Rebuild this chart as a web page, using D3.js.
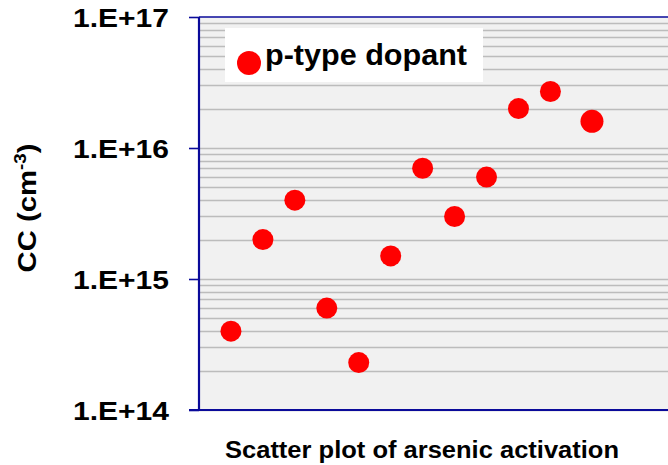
<!DOCTYPE html>
<html>
<head>
<meta charset="utf-8">
<script src="https://cdn.jsdelivr.net/npm/d3@7"></script>
<style>
  html, body { margin: 0; padding: 0; background: #ffffff; }
  svg { display: block; }
  text { font-family: "Liberation Sans", Arial, Helvetica, sans-serif; font-weight: bold; fill: #000; }
</style>
</head>
<body>
<svg id="chart" width="668" height="465"></svg>
<script>
// Sample order along the horizontal axis
const sampleIndex = [1, 2, 3, 4, 5, 6, 7, 8, 9, 10, 11, 12.3];
// Carrier concentration, cm^-3
const carrierConc = [4.0e14, 2.0e15, 4.0e15, 6.0e14, 2.3e14, 1.5e15, 7.0e15, 3.0e15, 6.0e15, 2.0e16, 2.7e16, 1.6e16];
// Decade ticks on the log axis
const decadeTicks = [1e14, 1e15, 1e16, 1e17];
const seriesName = "p-type dopant";
const xTitle = "Scatter plot of arsenic activation";

const svg = d3.select("#chart");
const plotL = 199, plotT = 17, plotB = 410, plotR = 668;

const x = d3.scaleLinear().domain([0, 14.68]).range([plotL, plotR]);
const y = d3.scaleLog().domain([1e14, 1e17]).range([plotB, plotT]);

// plot background
svg.append("rect")
  .attr("x", plotL).attr("y", plotT)
  .attr("width", plotR - plotL).attr("height", plotB - plotT)
  .attr("fill", "#f1f1f1");

// gridlines at every 1..9 x 10^n
const gridVals = [];
for (let e = 14; e < 17; e++) for (let m = 1; m <= 9; m++) gridVals.push(m * Math.pow(10, e));
svg.append("g").selectAll("line").data(gridVals).join("line")
  .attr("x1", plotL).attr("x2", plotR)
  .attr("y1", d => Math.round(y(d)) + 0.5).attr("y2", d => Math.round(y(d)) + 0.5)
  .attr("stroke", "#bcbcbc").attr("stroke-width", 1.6);

// legend box (sits over the gridlines)
const lg = svg.append("g");
lg.append("rect").attr("x", 225).attr("y", 28).attr("width", 258).attr("height", 54).attr("fill", "#ffffff");
lg.append("circle").attr("cx", 249).attr("cy", 63).attr("r", 12).attr("fill", "#ff0000");
lg.append("text").attr("x", 265).attr("y", 65)
  .attr("font-size", 30).attr("textLength", 202).attr("lengthAdjust", "spacingAndGlyphs")
  .text(seriesName);

// left axis with decade ticks
const yAxis = d3.axisLeft(y)
  .tickValues(decadeTicks)
  .tickSize(10)
  .tickPadding(20)
  .tickFormat(d => "1.E+" + Math.round(Math.log10(d)));
const ag = svg.append("g").attr("transform", `translate(${plotL},0)`).call(yAxis);
ag.select(".domain").attr("stroke", "#0a0a9a").attr("stroke-width", 2.2)
  .attr("d", `M0,${plotT}V${plotB}`);
ag.selectAll(".tick line").attr("stroke", "#0a0a9a").attr("stroke-width", 1.6);
ag.selectAll(".tick text")
  .attr("font-size", 26).attr("font-weight", "bold").attr("fill", "#000")
  .attr("font-family", '"Liberation Sans", Arial, sans-serif')
  .attr("dy", "0.36em")
  .attr("textLength", 96).attr("lengthAdjust", "spacingAndGlyphs");

// top and bottom borders
svg.append("line").attr("x1", plotL).attr("x2", plotR).attr("y1", plotT).attr("y2", plotT)
  .attr("stroke", "#0a0a9a").attr("stroke-width", 1.6);
svg.append("line").attr("x1", plotL - 10).attr("x2", plotR).attr("y1", plotB).attr("y2", plotB)
  .attr("stroke", "#0a0a9a").attr("stroke-width", 2.2);

// data points
svg.append("g").selectAll("circle").data(sampleIndex).join("circle")
  .attr("cx", d => x(d))
  .attr("cy", (d, i) => y(carrierConc[i]))
  .attr("r", (d, i) => i === sampleIndex.length - 1 ? 11.5 : 10.5)
  .attr("fill", "#ff0000");

// axis titles
svg.append("text").attr("x", 422).attr("y", 458).attr("text-anchor", "middle")
  .attr("font-size", 23).attr("textLength", 394).attr("lengthAdjust", "spacingAndGlyphs")
  .text(xTitle);

const yt = svg.append("text")
  .attr("transform", "translate(36,208) rotate(-90)")
  .attr("text-anchor", "middle")
  .attr("font-size", 25)
  .attr("textLength", 129).attr("lengthAdjust", "spacingAndGlyphs");
yt.append("tspan").text("CC (cm");
yt.append("tspan").attr("font-size", 16).attr("dy", -10).text("-3");
yt.append("tspan").attr("dy", 10).text(")");
</script>
</body>
</html>
